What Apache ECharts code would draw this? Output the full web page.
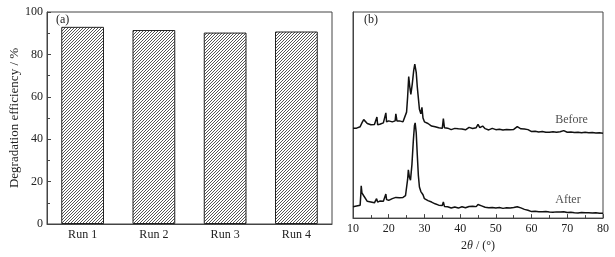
<!DOCTYPE html>
<html>
<head>
<meta charset="utf-8">
<script src="https://cdn.jsdelivr.net/npm/echarts@6/dist/echarts.min.js"></script>
<style>
  html, body { margin: 0; padding: 0; background: #fff; }
  #chart { width: 615px; height: 257px; }
</style>
</head>
<body>
<div id="chart"></div>
<script>
// (a) degradation efficiency per run
const runs = ['Run 1', 'Run 2', 'Run 3', 'Run 4']
const efficiency = [93, 91.5, 90.3, 90.8]

// (b) XRD patterns, [2theta, intensity (a.u.)]
const before = [
  [10, 92.3], [10.5, 93.5], [11, 92.5], [11.5, 94], [12, 94], [12.5, 98], [13, 101.3], [13.5, 100],
  [14, 97.3], [14.5, 96.5], [15, 96], [15.5, 97], [16, 96.3], [16.5, 95], [16.7, 104], [16.9, 96],
  [17, 97.3], [17.5, 96.5], [18, 97], [18.5, 98], [19, 98], [19.2, 108.3], [19.4, 99], [20, 100],
  [20.5, 99], [21, 99], [21.5, 101], [21.8, 100], [22, 107.3], [22.3, 100], [23, 100], [23.5, 99],
  [24, 99], [24.5, 101], [25, 109], [25.3, 125], [25.6, 145.7], [25.9, 135], [26.2, 127.3],
  [26.6, 138], [27, 152], [27.3, 158.3], [27.7, 150], [28, 135], [28.2, 127.3], [28.6, 112],
  [29, 107.3], [29.3, 114], [29.6, 103], [30, 99], [30.5, 99.5], [31, 97.3], [31.5, 97], [32, 94.7],
  [32.5, 95.5], [33, 94], [33.5, 92.5], [34, 93], [34.5, 92], [35, 92.3], [35.3, 102.3], [35.6, 93],
  [36, 91.3], [36.5, 92.5], [37, 92], [37.5, 91], [38, 91.5], [38.5, 92.3], [39, 91], [39.5, 91.8],
  [40, 90.7], [40.5, 91.6], [41, 91.5], [41.5, 90.8], [42, 91], [42.5, 93.3], [43, 91.5], [43.5, 92.2],
  [44, 92], [44.5, 93], [45, 96.3], [45.5, 93], [46, 92.6], [46.3, 94.7], [47, 92], [47.5, 91.2],
  [48, 90.7], [48.5, 91.8], [49, 92.3], [49.5, 91], [50, 91], [50.5, 90.2], [51, 91.5], [51.5, 90.5],
  [52, 90.7], [52.5, 91.4], [53, 91.2], [53.5, 90.4], [54, 91], [54.5, 90.6], [55, 91.2], [55.5, 91.5],
  [56, 94], [56.5, 92], [57, 91.8], [57.5, 93], [58, 91.6], [58.5, 92.3], [59, 91], [59.5, 89.8],
  [60, 89], [60.5, 89.8], [61, 89.3], [61.5, 88.2], [62, 88.5], [62.5, 89.4], [63, 89], [63.5, 88],
  [64, 88.2], [64.5, 89], [65, 88.3], [65.5, 87.8], [66, 88.8], [66.5, 88], [67, 88.2], [67.5, 89],
  [68, 88.8], [68.5, 89.2], [69, 90], [69.5, 88.6], [70, 88.3], [70.5, 89], [71, 88.6], [71.5, 87.7],
  [72, 88], [72.5, 88.9], [73, 88.4], [73.5, 87.6], [74, 87.8], [74.5, 88.6], [75, 88.3], [75.5, 87.4],
  [76, 87.8], [76.5, 88.5], [77, 88.1], [77.5, 87.2], [78, 87.5], [78.5, 88.2], [79, 87.9],
  [79.5, 87.1], [80, 87.3]
]
const after = [
  [10, 11.7], [10.5, 12.8], [11, 12.5], [11.5, 11.8], [12, 13.3], [12.2, 25], [12.3, 33.3], [12.5, 26],
  [12.7, 24], [13, 23], [13.5, 22.3], [14, 17.3], [14.5, 17.8], [15, 16.5], [15.5, 17], [16, 15.7],
  [16.6, 20], [16.9, 16.5], [17, 16.7], [17.5, 17.5], [18, 18], [18.5, 17.4], [19, 18.3],
  [19.2, 24.7], [19.4, 19], [20, 18.3], [20.5, 19.4], [21, 20], [21.5, 20.6], [22, 21.3], [22.5, 20.4],
  [23, 21], [23.5, 22], [24, 21.3], [24.7, 23], [25, 24], [25.3, 40], [25.5, 49.7], [25.8, 42],
  [26.1, 39], [26.5, 55], [26.9, 80], [27.2, 95], [27.4, 98], [27.7, 88], [28, 65], [28.3, 44],
  [28.6, 32], [29, 27.3], [29.3, 29], [29.6, 24], [30, 20], [30.5, 19.2], [31, 18], [31.5, 17.6],
  [32, 16.5], [32.5, 15.8], [33, 14.7], [33.5, 14.2], [34, 13.3], [34.5, 13.8], [35, 13],
  [35.3, 16.7], [35.6, 12], [36, 10.7], [36.5, 11.6], [37, 11.2], [37.5, 10.4], [38, 10.5],
  [38.5, 11.4], [39, 11], [39.5, 10.3], [40, 10.7], [40.5, 11.6], [41, 11.3], [41.5, 10.6], [42, 11],
  [42.5, 12], [43, 11.5], [43.5, 12.3], [44, 12.5], [44.5, 11.8], [45, 14], [45.5, 12], [46, 12.6],
  [46.5, 12], [47, 11.2], [47.5, 11.8], [48, 10.7], [48.5, 11.4], [49, 11], [49.5, 10.2], [50, 10.5],
  [50.5, 11.2], [51, 10.8], [51.5, 10], [52, 10], [52.5, 10.9], [53, 10.6], [53.5, 9.8], [54, 10.3],
  [54.5, 11], [55, 10.8], [55.5, 10.5], [56, 11.7], [56.5, 10.9], [57, 10.5], [57.5, 9.6], [58, 9],
  [58.5, 8.4], [59, 8], [59.5, 7.2], [60, 6.7], [60.5, 7.4], [61, 7], [61.5, 6.2], [62, 6.5],
  [62.5, 7.2], [63, 6.5], [63.5, 5.9], [64, 6.8], [64.5, 6.1], [65, 6.2], [65.5, 6.9], [66, 6],
  [66.5, 5.6], [67, 6.4], [67.5, 7], [68, 6.2], [68.5, 5.8], [69, 6.6], [69.5, 6], [70, 5.7],
  [70.5, 6.3], [71, 5.9], [71.5, 5.2], [72, 5.5], [72.5, 6.2], [73, 5.3], [73.5, 5.8], [74, 5.7],
  [74.5, 5], [75, 5.4], [75.5, 6], [76, 5.5], [76.5, 4.9], [77, 5.2], [77.5, 5.9], [78, 5.6],
  [78.5, 4.8], [79, 5.1], [79.5, 5.7], [80, 5]
]
// curve labels, [2theta, intensity, text]
const curveLabels = [[71.2, 101, 'Before'], [70.2, 19, 'After']]

// 斜线填充
const hatch = document.createElement('canvas')
hatch.width = 3
hatch.height = 3
const hc = hatch.getContext('2d')
hc.fillStyle = '#fff'
hc.fillRect(0, 0, 3, 3)
hc.fillStyle = '#555'
for (let i = 0; i < 3; i++) hc.fillRect(i, 2 - i, 1, 1)

const font = 'Liberation Serif'
const textColor = '#222'
const frame = '#444'

const chart = echarts.init(document.getElementById('chart'))
chart.setOption({
  animation: false,
  backgroundColor: '#fff',
  textStyle: { fontFamily: font, color: textColor },
  grid: [
    { left: 47, top: 12, right: 283, bottom: 33, show: true, borderColor: frame, borderWidth: 1 },
    { left: 353, top: 12, right: 12, bottom: 33, show: true, borderColor: frame, borderWidth: 1 }
  ],
  xAxis: [
    {
      gridIndex: 0,
      type: 'category',
      data: runs,
      axisLine: { lineStyle: { color: frame } },
      axisTick: { show: false },
      axisLabel: { fontFamily: font, fontSize: 12, color: textColor, margin: 5 }
    },
    {
      gridIndex: 1,
      type: 'value',
      min: 10,
      max: 80,
      interval: 10,
      axisLine: { lineStyle: { color: frame } },
      axisTick: { inside: true, length: 4, lineStyle: { color: frame } },
      minorTick: { show: true, splitNumber: 2, length: 3, lineStyle: { color: frame } },
      splitLine: { show: false },
      axisLabel: { fontFamily: font, fontSize: 12, color: textColor, margin: 5 },
      name: '{n|2}{i|θ}{n| / (°)}',
      nameLocation: 'middle',
      nameGap: 21,
      nameTextStyle: {
        rich: {
          n: { fontFamily: font, fontSize: 12, color: textColor },
          i: { fontFamily: font, fontSize: 12, fontStyle: 'italic', color: textColor }
        }
      }
    }
  ],
  yAxis: [
    {
      gridIndex: 0,
      type: 'value',
      min: 0,
      max: 100,
      interval: 20,
      axisLine: { show: true, lineStyle: { color: frame } },
      axisTick: { show: true, inside: true, length: 4, lineStyle: { color: frame } },
      minorTick: { show: true, splitNumber: 2, length: 3, lineStyle: { color: frame } },
      splitLine: { show: false },
      axisLabel: { fontFamily: font, fontSize: 12, color: textColor, margin: 4 },
      name: 'Degradation efficiency / %',
      nameLocation: 'middle',
      nameGap: 26,
      nameTextStyle: { fontFamily: font, fontSize: 13, color: textColor }
    },
    {
      gridIndex: 1,
      type: 'value',
      min: 0,
      max: 212,
      axisLine: { show: true, lineStyle: { color: frame } },
      axisTick: { show: false },
      axisLabel: { show: false },
      splitLine: { show: false }
    }
  ],
  series: [
    {
      type: 'bar',
      xAxisIndex: 0,
      yAxisIndex: 0,
      data: efficiency,
      barWidth: '60%',
      itemStyle: {
        color: { image: hatch, repeat: 'repeat' },
        borderColor: '#222',
        borderWidth: 1
      }
    },
    {
      name: 'Before',
      type: 'line',
      xAxisIndex: 1,
      yAxisIndex: 1,
      data: before,
      symbol: 'none',
      lineStyle: { color: '#111', width: 1.5 }
    },
    {
      name: 'After',
      type: 'line',
      xAxisIndex: 1,
      yAxisIndex: 1,
      data: after,
      symbol: 'none',
      lineStyle: { color: '#111', width: 1.5 }
    },
    {
      type: 'scatter',
      xAxisIndex: 1,
      yAxisIndex: 1,
      data: curveLabels,
      symbolSize: 0,
      silent: true,
      label: {
        show: true,
        position: 'inside',
        formatter: (p) => p.value[2],
        fontFamily: font,
        fontSize: 12,
        color: textColor
      }
    }
  ],
  graphic: [
    { type: 'text', left: 56, top: 14, style: { text: '(a)', font: '12px "Liberation Serif"', fill: textColor } },
    { type: 'text', left: 364, top: 14, style: { text: '(b)', font: '12px "Liberation Serif"', fill: textColor } }
  ]
})
</script>
</body>
</html>
